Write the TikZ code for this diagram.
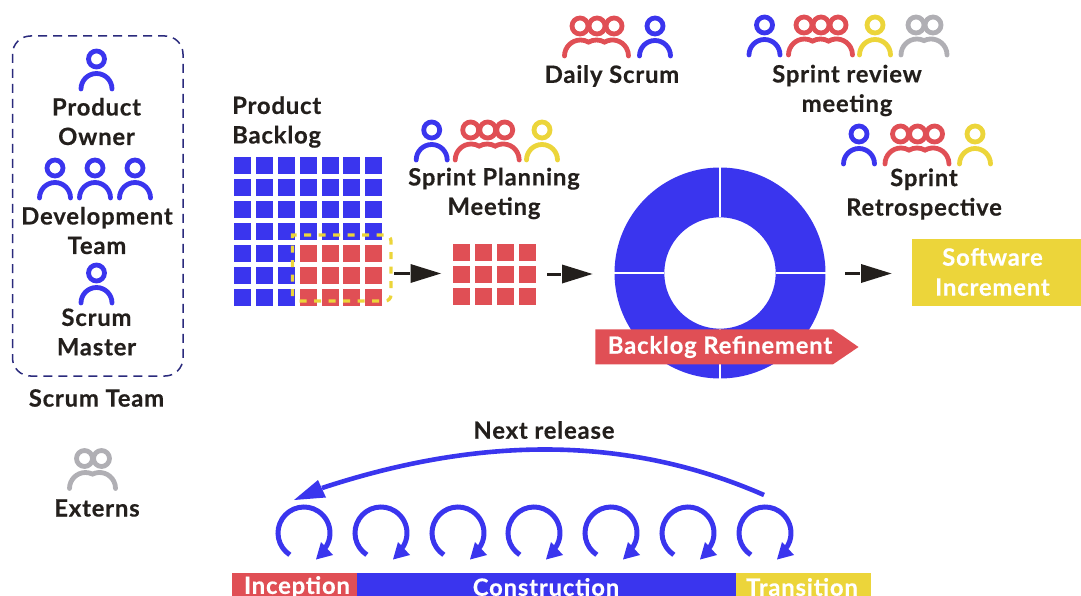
\documentclass[tikz,border=0pt]{standalone}
\usepackage{fontspec}
\setmainfont{Lato}[LetterSpace=3.5,BoldFeatures={FakeBold=0.45}]
\definecolor{sblue}{HTML}{3A35EE}
\definecolor{sred}{HTML}{E04F55}
\definecolor{syellow}{HTML}{ECD53A}
\definecolor{sgray}{HTML}{B0AFB4}
\definecolor{sink}{HTML}{231F1C}
\definecolor{snavy}{HTML}{2A2A7C}
\tikzset{
 x=1pt,y=1pt,
 icon/.style={line width=4.8pt,line cap=round},
 lbl/.style={font=\fontsize{23.8}{29.5}\selectfont\bfseries,text=sink,align=center,inner sep=0pt},
 wlbl/.style={font=\fontsize{23.8}{30}\selectfont\bfseries,text=white,align=center,inner sep=0pt},
 stem/.style={line width=3pt,sink},
}
% one person: head centre x, y (y measured downward)
\newcommand{\pone}[3]{%
 \draw[icon,#3] (#1,-#2) circle[radius=8];
 \draw[icon,#3] (#1-15.5,-#2-30) arc[start angle=180,end angle=0,radius=15.5];}
% three people
\newcommand{\pthree}[3]{%
 \foreach \d in {-17,0,17}{\draw[icon,#3] (#1+\d,-#2) circle[radius=8];}
 \draw[icon,#3] (#1-32.5,-#2-30) arc[start angle=180,end angle=60,radius=16]
   arc[start angle=120,end angle=60,radius=16]
   arc[start angle=120,end angle=0,radius=16];}
% two people
\newcommand{\ptwo}[3]{%
 \foreach \d in {-8.5,8.5}{\draw[icon,#3] (#1+\d,-#2) circle[radius=8];}
 \draw[icon,#3] (#1-23.5,-#2-30) arc[start angle=180,end angle=64,radius=16]
   arc[start angle=116,end angle=0,radius=16];}
\newcommand{\rarrow}[3]{% line start x, triangle left x, y
 \draw[stem] (#1,-#3) -- (#2-1,-#3);
 \fill[sink] (#2,-#3+9.5) -- (#2+30.5,-#3) -- (#2,-#3-9.5) -- cycle;}
\newcommand{\loopy}[1]{%
 \draw[line width=5pt,sblue] (#1,-533) ++(237:26) arc[start angle=237,end angle=-34,radius=26];
 \fill[sblue] (#1+12,-559.5) -- (#1+17,-542) -- (#1+29,-555) -- cycle;}
\begin{document}
\begin{tikzpicture}
\useasboundingbox (0,0) rectangle (1081,-596);
% team frame
\draw[snavy,line width=1.5pt,dash pattern=on 9pt off 6pt,rounded corners=18pt] (12.5,-36) rectangle (183,-376);
\pone{96.5}{59}{sblue}
\foreach \c in {55,95,135}{\pone{\c}{168}{sblue}}
\pone{96.5}{273}{sblue}
\ptwo{93}{458.5}{sgray}
\node[lbl] (po) at (96.5,-121.5) {Product\\Owner};
\node[lbl] (dt) at (97,-230.5) {Development\\Team};
\node[lbl] (sm) at (96.5,-332) {Scrum\\Master};
\node[lbl] (st) at (96.5,-398) {Scrum Team};
\node[lbl] (ex) at (97,-508) {Externs};
% product backlog
\node[lbl,anchor=west,align=left] (pb) at (232,-122) {Product\\Backlog};
\foreach \cx in {234,256,278,300,322,343,365}
 \foreach \cy in {157,179,201,223,245,267,289}
  {\fill[sblue] (\cx,-\cy) rectangle ++(17,-17);}
\foreach \cx in {300,322,343,365}
 \foreach \cy in {245,267,289}
  {\fill[sred] (\cx,-\cy) rectangle ++(17,-17);}
\draw[syellow,line width=3.3pt,dash pattern=on 7pt off 7.5pt]
  (292.5,-296) -- (292.5,-235) -- (385,-235) to[out=0,in=90] (391,-241) -- (391,-295) to[out=-90,in=0] (385,-301) -- (295,-301);
\rarrow{394}{410.5}{273.5}
% sprint backlog
\foreach \cx in {453,475,497,519}
 \foreach \cy in {244,266,288}
  {\fill[sred] (\cx,-\cy) rectangle ++(17,-17);}
\rarrow{547}{562}{274}
\pone{431.7}{130}{sblue}
\pthree{487.7}{130}{sred}
\pone{542}{130}{syellow}
\node[lbl] (spm) at (494,-193.5) {Sprint Planning\\Meeting};
% daily
\pthree{597}{26}{sred}
\pone{655}{26}{sblue}
\node[lbl] (ds) at (612,-76) {Daily Scrum};
% review
\pone{764.5}{25}{sblue}
\pthree{821}{25}{sred}
\pone{875}{25}{syellow}
\ptwo{924.5}{25}{sgray}
\node[lbl] (srm) at (847,-90.5) {Sprint review\\meeting};
% retrospective
\pone{859}{134}{sblue}
\pthree{917.5}{134}{sred}
\pone{975}{134}{syellow}
\node[lbl] (sr) at (924,-194) {Sprint\\Retrospective};
% donut
\fill[sblue,even odd rule] (720,-273) circle[radius=105.5] (720,-273) circle[radius=55.7];
\draw[white,line width=1.2pt] (720,-167) -- (720,-217.3) (720,-328.7) -- (720,-379) (614,-273) -- (664.3,-273) (775.7,-273) -- (826,-273);
\fill[sred] (595.3,-329.3) -- (833,-329.3) -- (858.5,-347) -- (833,-364.3) -- (595.3,-364.3) -- cycle;
\node[wlbl] (br) at (720,-347) {Backlog Refinement};
\rarrow{845}{861}{273.5}
% increment
\fill[syellow] (912,-239) rectangle (1081,-306);
\node[wlbl] (si) at (992.5,-272) {Software\\Increment};
% next release
\node[lbl] (nr) at (544,-430) {Next release};
\draw[line width=4.6pt,sblue] (764,-495) .. controls (618,-431) and (468,-440) .. (322,-488);
\fill[sblue] (294,-500) -- (318,-480) -- (326,-497.5) -- cycle;
\foreach \c in {304,381,458,534,611,688,765}{\loopy{\c}}
% phases
\fill[sred] (232,-573) rectangle (357,-596);
\fill[sblue] (357,-573) rectangle (736,-596);
\fill[syellow] (736,-573) rectangle (871,-596);
\node[wlbl] (inc) at (297,-587) {Inception};
\node[wlbl] (con) at (546,-587) {Construction};
\node[wlbl] (tra) at (802,-587) {Transition};
\end{tikzpicture}
\end{document}
